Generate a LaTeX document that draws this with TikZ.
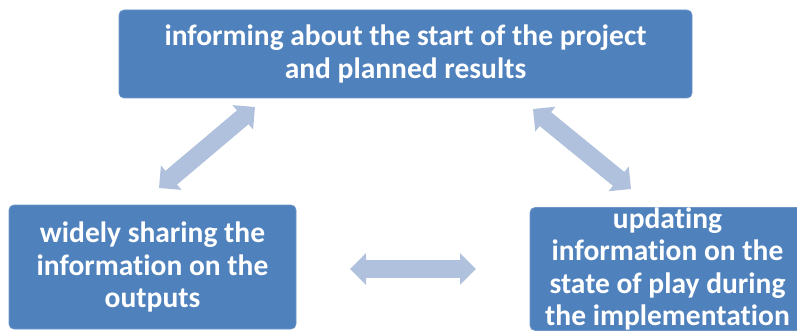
\documentclass[tikz,border=0pt]{standalone}
\usepackage{fontspec}
\setmainfont[Ligatures=NoCommon]{Carlito}
\usepackage{xcolor}
\usepackage{tikz}
\usetikzlibrary{
    arrows.meta
}
\definecolor{boxblue}{HTML}{4F81BD}
\definecolor{boxedge}{HTML}{6E95C7}
\definecolor{flowblue}{HTML}{B0C1DD}
\tikzset{
    stage/.style={draw=boxedge, line width=0.8pt, fill=boxblue, rounded corners=5pt,
        text=white, align=center, inner sep=0pt,
        font=\fontsize{29.5}{32.5}\selectfont\bfseries},
    flow/.style={flowblue, line width=18pt,
        {Triangle[width=31pt,length=16pt]}-{Triangle[width=31pt,length=16pt]}}
}

\begin{document}
\begin{tikzpicture}[x=1pt,y=-1pt]
        \useasboundingbox (0,0) rectangle (797,331);
        \clip (0,0) rectangle (797,331);

        \draw (405.5,54) node[stage, minimum width=573pt, minimum height=88pt](start){informing about the start of the project\\and planned results};
        \draw (152.5,267) node[stage, minimum width=287pt, minimum height=124pt](sharing){widely sharing the\\information on the\\outputs};
        \draw (667.5,269) node[stage, minimum width=275pt, minimum height=122pt](updating){updating\\information on the\\state of play during\\the implementation};

        \coordinate (startL) at (255,107);
        \coordinate (sharingT) at (159,188);
        \coordinate (startR) at (533,109);
        \coordinate (updatingT) at (631,189);
        \coordinate (sharingR) at (350,269);
        \coordinate (updatingL) at (476,269);

        \draw[flow] (sharingT) to (startL);
        \draw[flow] (startR) to (updatingT);
        \draw[flow] (sharingR) to (updatingL);
    \end{tikzpicture}
\end{document}
